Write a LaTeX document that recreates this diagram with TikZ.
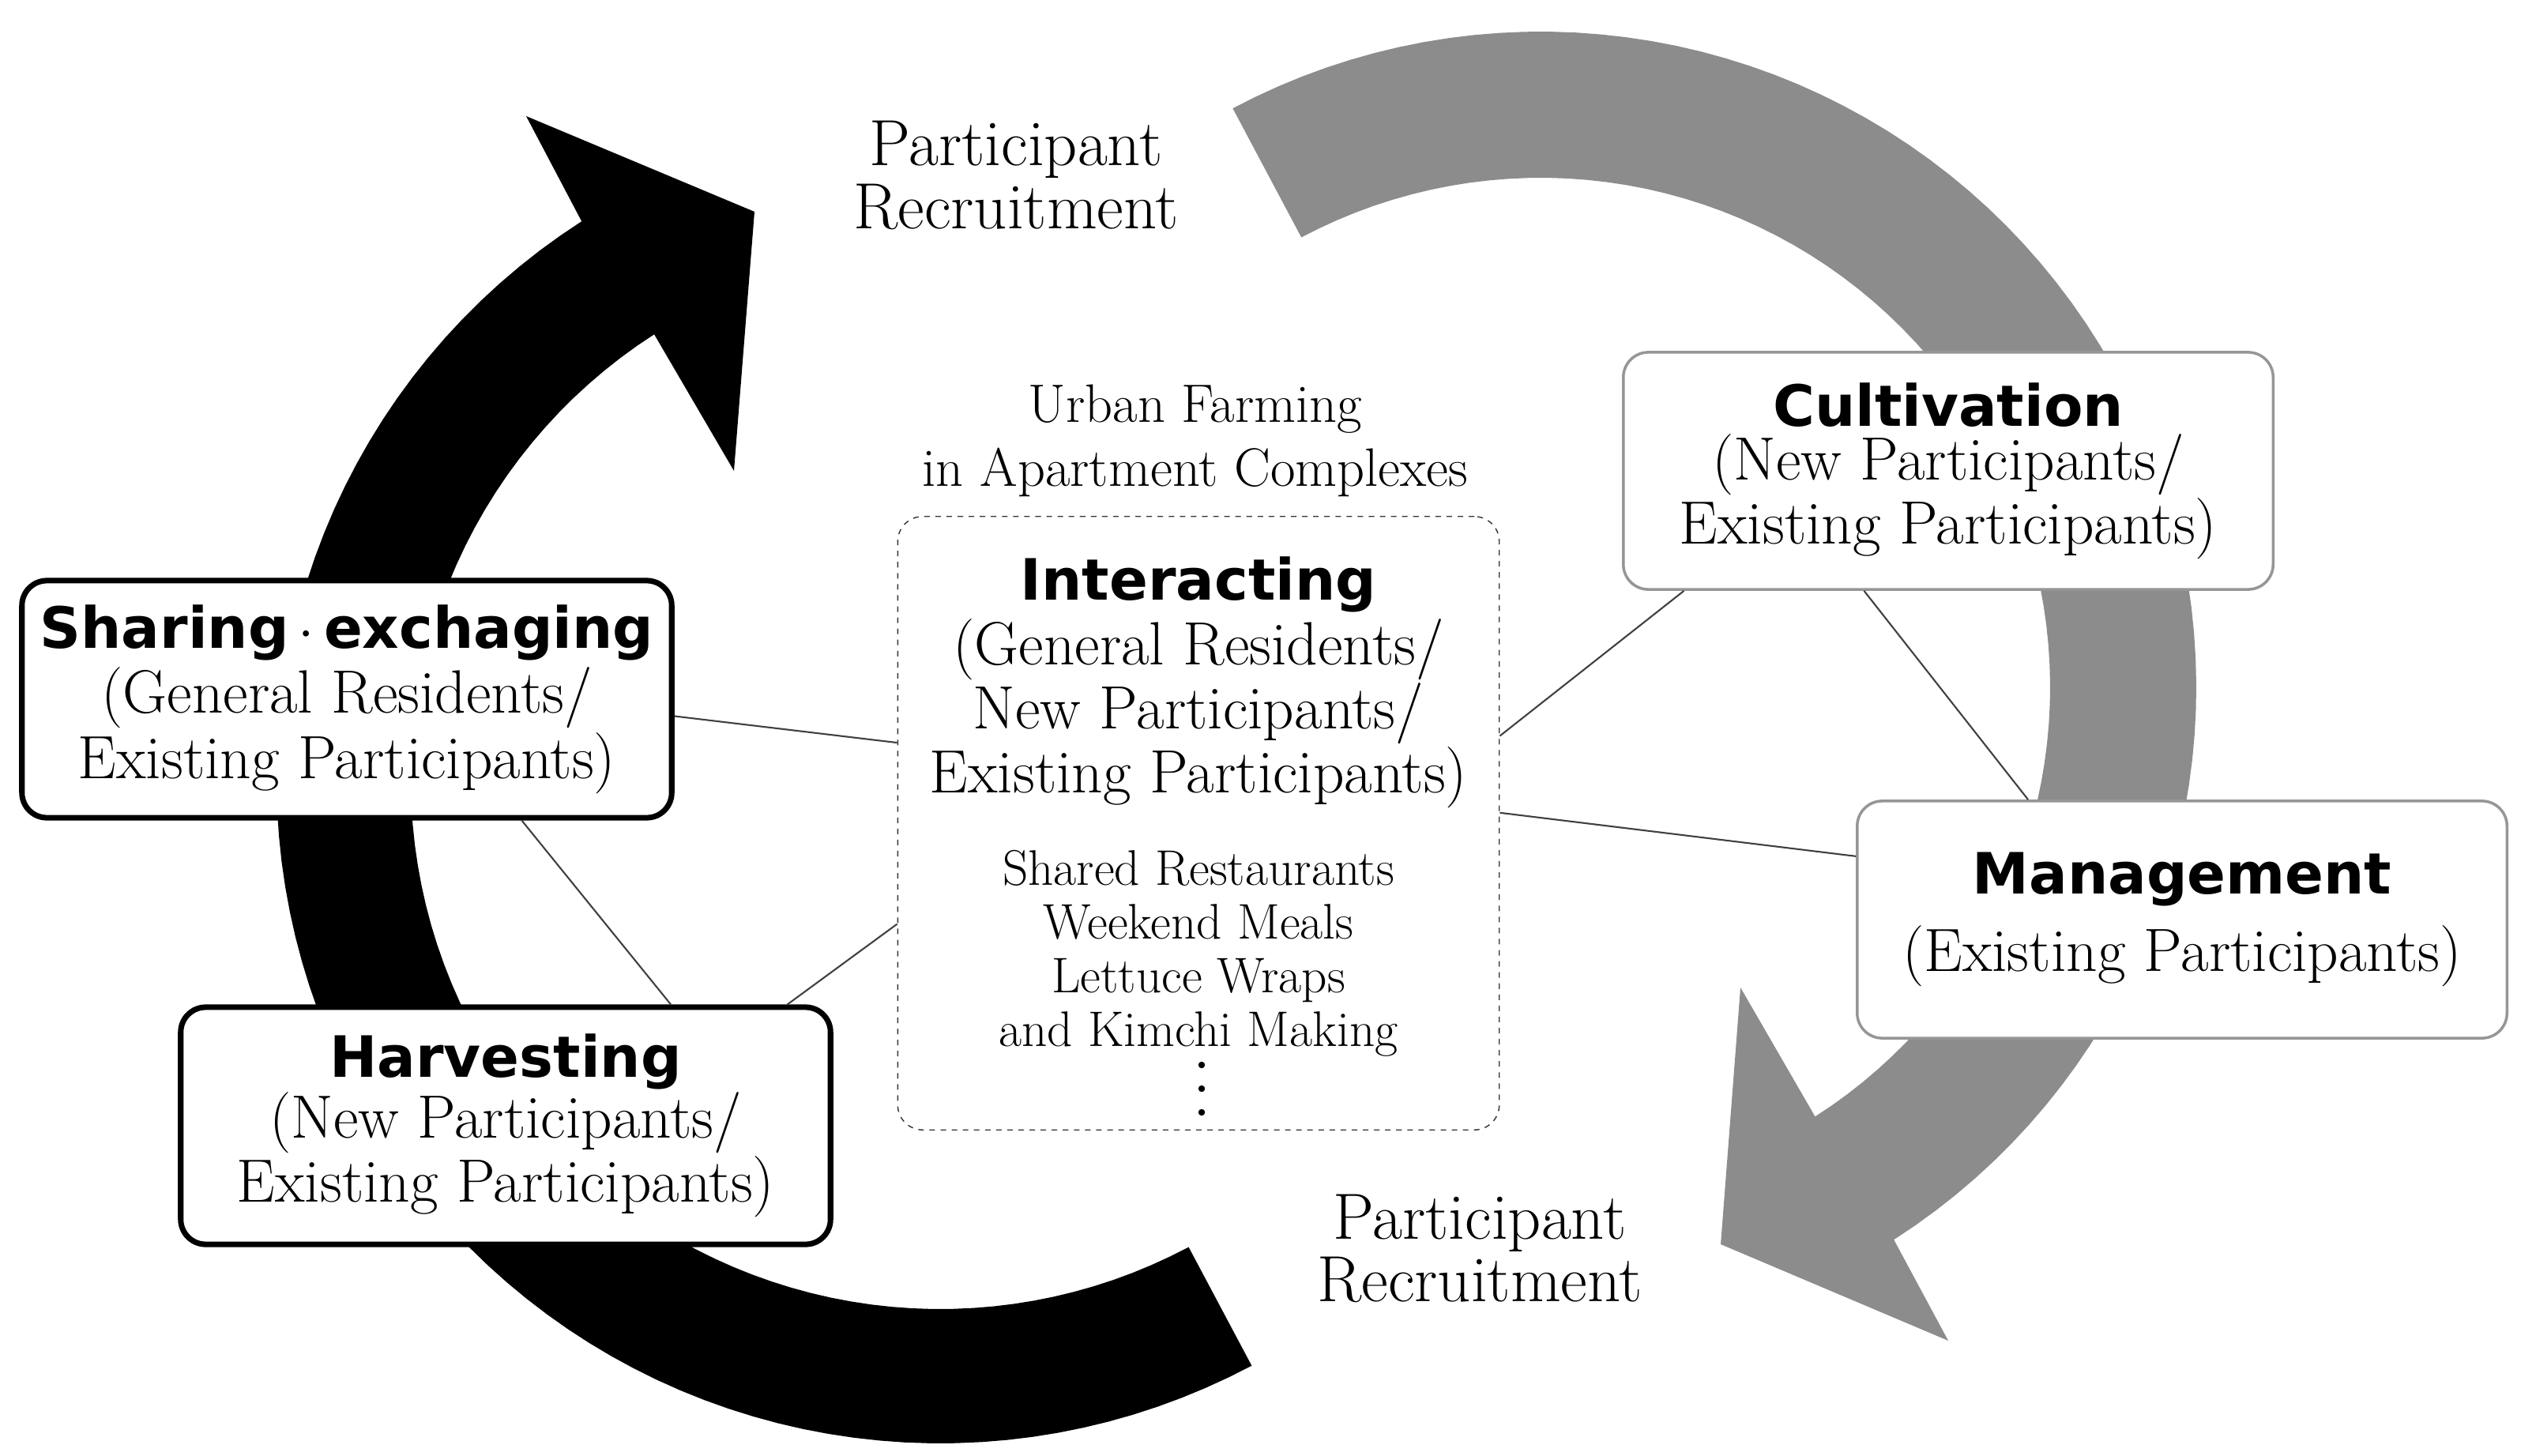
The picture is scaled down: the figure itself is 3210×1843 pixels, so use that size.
\documentclass[tikz,border=0pt]{standalone}
\usepackage{fontspec}
\usepackage{tikz}
\usetikzlibrary{calc}
\newfontfamily\headfont{DejaVu Sans}
\definecolor{arcgray}{RGB}{140,140,140}
\definecolor{boxgray}{RGB}{150,150,150}
\newcommand{\stagetitle}[1]{{\headfont\bfseries\fontsize{20.5}{28}\selectfont #1}}

\begin{document}
\begin{tikzpicture}[x=0.01cm, y=-0.01cm,
    stage/.style={rectangle, rounded corners=9pt, fill=white, align=center, inner sep=0pt, minimum width=8.22cm, minimum height=3cm, font=\fontsize{22}{19.5}\selectfont},
    done/.style={stage, draw=black, line width=2pt},
    plan/.style={stage, draw=boxgray, line width=1pt},
    link/.style={draw=black!75, line width=0.6pt},
    caption/.style={align=center, inner sep=0pt, font=\fontsize{23.5}{22.5}\selectfont}
]
    \useasboundingbox (0,0) rectangle (3210,1843);

    % cycle arrows
    \fill[black] plot[domain=298:122.7, samples=80] ({1190+840*cos(\x)},{987-840*sin(\x)})
        -- (666,147) -- (955,268) -- (929,596)
        -- plot[domain=122.7:298, samples=80] ({1190+670*cos(\x)},{987-670*sin(\x)}) -- cycle;
    \fill[arcgray] plot[domain=118:-57.4, samples=80] ({1950+830*cos(\x)},{870-830*sin(\x)})
        -- (2466,1697) -- (2178,1575) -- (2203,1250)
        -- plot[domain=-57.4:118, samples=80] ({1950+645*cos(\x)},{870-645*sin(\x)}) -- cycle;

    \node[caption] (recruittop) at (1286,222) {Participant\\Recruitment};
    \node[caption] (recruitbot) at (1873,1580) {Participant\\Recruitment};
    \node[caption, font=\fontsize{19.5}{23}\selectfont] (urban) at (1513,558) {Urban Farming\\in Apartment Complexes};

    % stages
    \node[done, font=\fontsize{22}{23.5}\selectfont] (share) at (439,885) {\stagetitle{Sharing\,$\cdot$\,exchaging}\\(General Residents/\\Existing Participants)};
    \node[done] (harvest) at (640,1425) {\stagetitle{Harvesting}\\(New Participants/\\Existing Participants)};
    \node[plan] (cultivate) at (2466,596) {\stagetitle{Cultivation}\\(New Participants/\\Existing Participants)};
    \node[plan] (manage) at (2762,1164) {\stagetitle{Management}\\[6pt](Existing Participants)};

    % centre
    \node[rectangle, draw=black!80, dashed, dash pattern=on 2pt off 2pt, rounded corners=9pt, minimum width=7.61cm, minimum height=7.76cm] (inter) at (1517,1042) {};
    \node[caption] (intertitle) at (1517,740) {\stagetitle{Interacting}};
    \node[caption, font=\fontsize{22}{19.8}\selectfont] (intergroup) at (1517,903) {(General Residents/\\New Participants/\\Existing Participants)};
    \node[caption, font=\fontsize{18}{19.3}\selectfont] (interlist) at (1517,1207) {Shared Restaurants\\Weekend Meals\\Lettuce Wraps\\and Kimchi Making};
    \foreach \y in {1348,1378,1408}
        \fill (1521,\y) circle (1.2pt);

    % links
    \draw[link] ($(share.north east)!0.57!(share.south east)$) -- ($(inter.north west)!0.369!(inter.south west)$);
    \draw[link] ($(share.south west)!0.767!(share.south east)$) -- ($(harvest.north west)!0.752!(harvest.north east)$);
    \draw[link] ($(harvest.north west)!0.93!(harvest.north east)$) -- ($(inter.north west)!0.664!(inter.south west)$);
    \draw[link] ($(inter.north east)!0.358!(inter.south east)$) -- ($(cultivate.south west)!0.095!(cultivate.south east)$);
    \draw[link] ($(cultivate.south west)!0.371!(cultivate.south east)$) -- ($(manage.north west)!0.264!(manage.north east)$);
    \draw[link] ($(inter.north east)!0.483!(inter.south east)$) -- ($(manage.north west)!0.236!(manage.south west)$);
\end{tikzpicture}
\end{document}
